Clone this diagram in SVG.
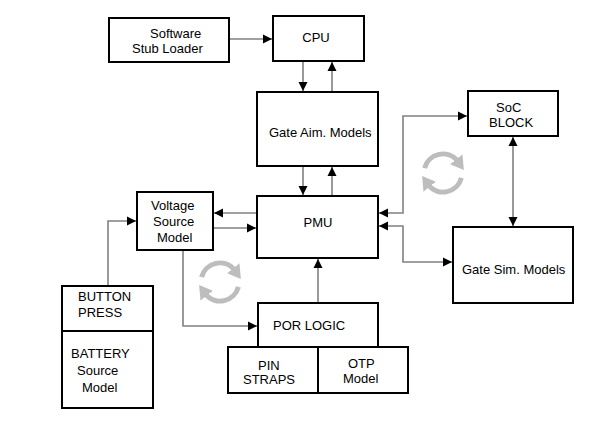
<svg xmlns="http://www.w3.org/2000/svg" width="606" height="421" viewBox="0 0 606 421">
<style>
.box{fill:#fff;stroke:#000;stroke-width:2}
.t{font-family:"Liberation Sans",Arial,sans-serif;font-size:13px;fill:#000}
.c{fill:none;stroke:#808080;stroke-width:1.6}
.ic{fill:none;stroke:#bdbdbd;stroke-width:5}
</style>
<defs>
<marker id="ah" markerUnits="userSpaceOnUse" markerWidth="10" markerHeight="10" refX="9" refY="5" orient="auto-start-reverse" viewBox="0 0 10 10">
<path d="M0,0.5 L9,5 L0,9.5 z" fill="#000"/>
</marker>
<marker id="ih" markerUnits="userSpaceOnUse" markerWidth="18" markerHeight="18" refX="2" refY="9" orient="auto" viewBox="0 0 18 18">
<path d="M0,1 L13,10 L0,17 z" fill="#bdbdbd"/>
</marker>
</defs>
<rect width="606" height="421" fill="#fff"/>
<g id="connectors">
<path class="c" d="M229,39 H272" marker-end="url(#ah)"/>
<path class="c" d="M303,61 V91" marker-end="url(#ah)"/>
<path class="c" d="M332,92 V62" marker-end="url(#ah)"/>
<path class="c" d="M303,166 V195" marker-end="url(#ah)"/>
<path class="c" d="M332,196 V167" marker-end="url(#ah)"/>
<path class="c" d="M257,213 H214" marker-end="url(#ah)"/>
<path class="c" d="M213,228 H256" marker-end="url(#ah)"/>
<path class="c" d="M108,286 V221 H136" marker-end="url(#ah)"/>
<path class="c" d="M183,250 V326 H257" marker-end="url(#ah)"/>
<path class="c" d="M318,303 V259" marker-end="url(#ah)"/>
<path class="c" d="M379,213 H403 V116 H467" marker-start="url(#ah)" marker-end="url(#ah)"/>
<path class="c" d="M379,226 H403 V262 H452" marker-start="url(#ah)" marker-end="url(#ah)"/>
<path class="c" d="M513,137 V226" marker-start="url(#ah)" marker-end="url(#ah)"/>
</g>
<g id="icon1">
<path class="ic" d="M424.6,168.1 A19,19 0 0 1 457.6,160.8" marker-end="url(#ih)"/>
<path class="ic" d="M461.4,177.9 A19,19 0 0 1 428.4,185.2" marker-end="url(#ih)"/>
</g>
<g id="icon2">
<path class="ic" d="M201.6,277.1 A19,19 0 0 1 234.6,269.8" marker-end="url(#ih)"/>
<path class="ic" d="M238.4,286.9 A19,19 0 0 1 205.4,294.2" marker-end="url(#ih)"/>
</g>
<g id="stub">
<rect class="box" x="109" y="18" width="120" height="44"/>
<text class="t" x="150" y="38">Software</text>
<text class="t" x="132" y="53">Stub Loader</text>
</g>
<g id="cpu">
<rect class="box" x="273" y="16" width="91" height="45"/>
<text class="t" x="316" y="42" text-anchor="middle">CPU</text>
</g>
<g id="gateaim">
<rect class="box" x="257" y="92" width="121" height="74"/>
<text class="t" x="269" y="137">Gate Aim. Models</text>
</g>
<g id="pmu">
<rect class="box" x="257" y="196" width="121" height="62"/>
<text class="t" x="318" y="227" text-anchor="middle">PMU</text>
</g>
<g id="voltage">
<rect class="box" x="137" y="192" width="76" height="58"/>
<text class="t" x="151" y="210">Voltage</text>
<text class="t" x="153" y="226">Source</text>
<text class="t" x="157" y="242">Model</text>
</g>
<g id="battery">
<rect class="box" x="62" y="286" width="91" height="122"/>
<line x1="62" y1="331" x2="153" y2="331" stroke="#000" stroke-width="2"/>
<text class="t" x="78" y="301">BUTTON</text>
<text class="t" x="78" y="317">PRESS</text>
<text class="t" x="71" y="358">BATTERY</text>
<text class="t" x="77" y="375">Source</text>
<text class="t" x="82" y="392">Model</text>
</g>
<g id="por">
<rect class="box" x="258" y="303" width="120" height="44"/>
<text class="t" x="273" y="330">POR LOGIC</text>
</g>
<g id="pin">
<rect class="box" x="228" y="347" width="90" height="46"/>
<text class="t" x="258" y="370">PIN</text>
<text class="t" x="243" y="384">STRAPS</text>
</g>
<g id="otp">
<rect class="box" x="318" y="347" width="90" height="46"/>
<text class="t" x="348" y="368">OTP</text>
<text class="t" x="343" y="383">Model</text>
</g>
<g id="soc">
<rect class="box" x="468" y="91" width="90" height="45"/>
<text class="t" x="496" y="112">SoC</text>
<text class="t" x="489" y="127">BLOCK</text>
</g>
<g id="gatesim">
<rect class="box" x="453" y="227" width="120" height="76"/>
<text class="t" x="462" y="274">Gate Sim. Models</text>
</g>
</svg>
